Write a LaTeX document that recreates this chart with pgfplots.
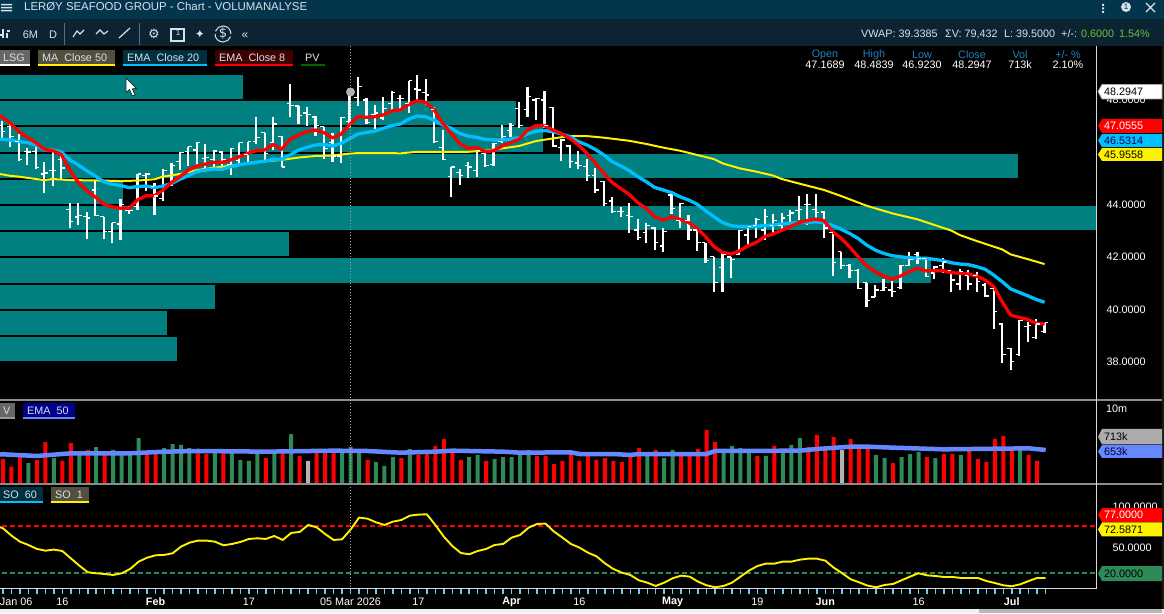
\documentclass[border=0pt]{standalone}
\usepackage{fontspec}
\setmainfont{Liberation Sans}
\usepackage{pgfplots}
\usepackage{pgfplotstable}
\pgfplotsset{compat=1.18}
\definecolor{zone}{HTML}{008080}
\definecolor{cema}{HTML}{00BFFF}
\definecolor{vema}{HTML}{6688FF}
\definecolor{sgreen}{HTML}{2E8B57}
\definecolor{tickb}{HTML}{66CCFF}
\definecolor{hdr}{HTML}{03354D}
\definecolor{tool}{HTML}{0C2432}
\definecolor{hblue}{HTML}{1E82BE}
\definecolor{lite}{HTML}{D5E2EA}
\definecolor{ggreen}{HTML}{6FBF40}
\pgfdeclareplotmark{otick}{\pgfpathmoveto{\pgfqpoint{0pt}{0pt}}\pgfpathlineto{\pgfqpoint{-3.6pt}{0pt}}\pgfusepathqstroke}
\pgfdeclareplotmark{ctick}{\pgfpathmoveto{\pgfqpoint{0pt}{0pt}}\pgfpathlineto{\pgfqpoint{3.6pt}{0pt}}\pgfusepathqstroke}

% i open high low close
\pgfplotstableread{
i O H L C
0 47.05 47.22 46.52 46.79
1 46.98 47.14 46.22 46.60
2 46.42 46.71 45.69 45.72
3 46.03 46.18 45.53 46.02
4 46.03 46.22 45.37 45.42
5 45.18 45.64 44.47 45.22
6 45.31 46.02 44.72 45.30
7 45.72 45.87 45.00 45.41
8 43.81 44.07 43.13 43.36
9 43.54 44.07 43.23 43.61
10 43.55 43.73 42.71 43.50
11 44.57 44.91 43.58 43.59
12 43.55 43.55 42.71 42.97
13 42.98 43.32 42.56 43.32
14 43.27 44.23 42.66 44.00
15 43.78 43.96 43.65 43.78
16 43.93 45.18 43.81 45.18
17 45.11 45.23 44.53 45.18
18 44.72 44.84 43.61 44.34
19 44.23 45.37 44.15 45.33
20 45.14 45.60 44.72 45.50
21 45.65 46.02 45.33 45.99
22 46.03 46.22 45.49 46.22
23 46.10 46.42 45.53 46.37
24 45.79 46.33 45.27 45.80
25 45.75 46.10 45.37 46.06
26 46.02 46.07 45.37 45.72
27 45.53 46.18 45.14 46.14
28 45.69 46.38 45.56 46.38
29 45.91 46.42 45.61 46.42
30 46.42 47.36 46.33 46.56
31 46.75 46.75 45.72 45.95
32 46.37 47.37 46.10 47.09
33 46.60 46.65 45.45 45.45
34 47.86 48.62 47.35 47.79
35 47.78 47.79 47.09 47.40
36 47.51 47.74 47.03 47.47
37 47.36 47.40 46.63 47.02
38 46.98 46.99 45.75 46.14
39 46.40 46.75 45.65 45.87
40 45.87 47.36 45.60 47.35
41 47.17 48.48 46.92 48.29
42 48.09 48.89 47.79 48.52
43 48.01 48.09 47.09 47.14
44 47.44 47.82 46.89 47.51
45 47.32 48.12 47.25 47.70
46 47.89 48.35 47.56 48.28
47 48.05 48.20 47.63 48.05
48 47.89 48.75 47.52 48.75
49 48.43 48.96 48.01 48.39
50 48.30 48.81 47.82 48.20
51 47.63 47.74 46.37 46.42
52 46.18 46.86 45.72 45.75
53 45.07 45.46 44.30 45.45
54 45.23 45.37 44.76 45.14
55 45.49 45.64 45.04 45.45
56 45.31 46.10 45.08 46.07
57 45.95 45.98 45.45 45.49
58 45.53 46.38 45.49 46.33
59 46.42 47.05 46.35 46.60
60 46.84 47.13 46.60 47.05
61 47.70 47.94 46.95 47.02
62 47.63 48.51 47.37 48.14
63 48.01 48.09 47.25 48.05
64 48.01 48.35 46.94 47.05
65 47.71 47.74 46.22 46.25
66 46.21 46.52 45.68 46.48
67 46.25 46.29 45.41 45.65
68 45.60 46.06 45.37 45.49
69 45.46 45.75 44.93 45.14
70 45.14 45.42 44.46 44.57
71 44.89 44.93 43.96 44.07
72 44.15 44.30 43.70 43.74
73 43.74 43.93 43.54 43.74
74 43.58 44.08 42.93 43.55
75 43.04 43.46 42.66 42.74
76 42.93 43.32 42.56 43.23
77 43.12 43.17 42.28 42.56
78 42.43 43.13 42.21 42.98
79 44.38 44.53 43.65 43.88
80 43.42 44.07 43.12 44.04
81 43.42 43.61 42.66 43.04
82 43.04 43.12 42.25 42.56
83 42.55 42.55 41.78 41.87
84 42.02 42.02 40.68 41.03
85 41.60 42.16 40.68 42.12
86 42.01 42.02 41.22 41.90
87 42.12 43.04 42.09 43.02
88 42.85 43.23 42.43 43.19
89 43.23 43.50 42.74 43.46
90 43.04 43.84 42.66 43.55
91 43.23 43.65 42.94 43.42
92 43.23 43.69 43.00 43.50
93 43.61 43.81 43.31 43.69
94 43.78 44.34 43.42 43.81
95 44.00 44.42 43.23 44.00
96 43.81 44.42 43.42 43.70
97 43.73 43.78 42.74 43.12
98 42.93 42.93 41.28 41.79
99 42.21 42.21 41.55 41.70
100 41.70 41.74 41.21 41.51
101 41.51 41.55 40.79 40.79
102 41.02 41.03 40.10 40.34
103 40.48 40.94 40.47 40.75
104 40.72 41.17 40.71 40.83
105 40.75 41.10 40.49 40.68
106 40.83 41.70 40.79 41.67
107 41.70 42.21 41.67 41.90
108 42.09 42.21 41.74 41.97
109 41.97 42.02 41.26 41.28
110 41.40 41.67 41.17 41.63
111 41.70 41.97 41.40 41.82
112 41.49 41.49 40.68 41.13
113 40.98 41.55 40.75 41.44
114 41.32 41.51 40.75 40.98
115 41.32 41.45 40.68 41.07
116 40.94 41.02 40.48 40.52
117 40.79 40.83 39.26 39.92
118 39.45 39.49 37.97 38.30
119 38.50 38.53 37.69 38.01
120 38.27 39.60 38.24 39.58
121 39.34 39.54 38.77 39.41
122 38.92 39.64 38.88 39.45
123 39.16 39.50 39.12 39.50
}\ohlc

\pgfplotstableread{
i v
-1 47.50
0 47.37
1 47.12
2 46.80
3 46.58
4 46.38
5 46.12
6 46.07
7 45.93
8 45.33
9 44.86
10 44.54
11 44.31
12 44.03
13 43.93
14 43.87
15 43.87
16 44.19
17 44.35
18 44.35
19 44.57
20 44.86
21 45.08
22 45.33
23 45.49
24 45.56
25 45.63
26 45.63
27 45.72
28 45.84
29 45.97
30 46.07
31 46.10
32 46.31
33 46.12
34 46.51
35 46.67
36 46.80
37 46.86
38 46.76
39 46.56
40 46.70
41 47.06
42 47.37
43 47.35
44 47.37
45 47.44
46 47.59
47 47.63
48 47.84
49 47.98
50 47.92
51 47.63
52 47.12
53 46.73
54 46.35
55 46.16
56 46.19
57 46.03
58 46.07
59 46.25
60 46.38
61 46.51
62 46.86
63 47.03
64 47.03
65 46.86
66 46.73
67 46.54
68 46.29
69 45.98
70 45.59
71 45.21
72 44.85
73 44.63
74 44.40
75 44.09
76 43.87
77 43.55
78 43.42
79 43.55
80 43.45
81 43.33
82 43.10
83 42.79
84 42.41
85 42.19
86 42.12
87 42.24
88 42.43
89 42.57
90 42.79
91 42.89
92 43.03
93 43.17
94 43.32
95 43.40
96 43.46
97 43.40
98 42.98
99 42.72
100 42.40
101 42.02
102 41.67
103 41.45
104 41.28
105 41.16
106 41.28
107 41.45
108 41.58
109 41.48
110 41.48
111 41.49
112 41.41
113 41.39
114 41.36
115 41.28
116 41.13
117 40.88
118 40.30
119 39.79
120 39.70
121 39.63
122 39.48
123 39.45
}\emaeight

\pgfplotstableread{
i v
-1 46.51
0 46.51
1 46.48
2 46.42
3 46.38
4 46.29
5 46.10
6 46.10
7 46.03
8 45.72
9 45.53
10 45.31
11 45.11
12 44.89
13 44.79
14 44.74
15 44.66
16 44.70
17 44.72
18 44.66
19 44.72
20 44.82
21 44.98
22 45.12
23 45.27
24 45.33
25 45.37
26 45.36
27 45.46
28 45.53
29 45.59
30 45.63
31 45.67
32 45.74
33 45.74
34 45.91
35 46.10
36 46.20
37 46.29
38 46.31
39 46.25
40 46.35
41 46.53
42 46.71
43 46.77
44 46.82
45 46.93
46 47.03
47 47.09
48 47.28
49 47.40
50 47.37
51 47.23
52 47.05
53 46.93
54 46.73
55 46.63
56 46.58
57 46.51
58 46.48
59 46.48
60 46.51
61 46.57
62 46.71
63 46.82
64 46.84
65 46.80
66 46.71
67 46.61
68 46.42
69 46.29
70 46.12
71 45.91
72 45.65
73 45.49
74 45.31
75 45.08
76 44.89
77 44.67
78 44.57
79 44.47
80 44.31
81 44.19
82 44.03
83 43.78
84 43.55
85 43.33
86 43.21
87 43.17
88 43.17
89 43.19
90 43.21
91 43.23
92 43.27
93 43.30
94 43.33
95 43.33
96 43.36
97 43.32
98 43.21
99 43.07
100 42.91
101 42.72
102 42.47
103 42.28
104 42.15
105 42.06
106 42.02
107 41.98
108 41.97
109 41.96
110 41.92
111 41.87
112 41.79
113 41.74
114 41.72
115 41.64
116 41.54
117 41.32
118 41.07
119 40.79
120 40.66
121 40.53
122 40.39
123 40.28
}\ematwenty

\pgfplotstableread{
i v
-1 45.20
0 45.17
1 45.11
2 45.08
4 44.99
5 44.95
6 44.99
8 44.95
10 44.94
12 44.93
14 44.91
16 44.93
18 44.98
19 45.08
21 45.18
23 45.33
25 45.42
27 45.50
29 45.59
31 45.67
33 45.72
35 45.81
37 45.87
39 45.89
41 45.96
42 45.98
46 45.98
47 45.97
49 46.03
51 46.03
55 46.03
57 46.07
59 46.16
61 46.25
63 46.44
65 46.54
67 46.63
69 46.63
71 46.57
74 46.45
76 46.33
78 46.19
80 46.07
82 45.91
84 45.75
85 45.59
87 45.40
89 45.27
91 45.12
92 44.99
94 44.82
97 44.57
99 44.34
102 43.97
105 43.68
108 43.45
112 43.02
113 42.85
115 42.62
118 42.30
119 42.11
121 41.93
123 41.74
}\mafifty

\pgfplotstableread{
i v
0 480
1 332
2 518
4 461
5 806
7 442
8 787
10 653
12 576
17 576
18 595
23 614
24 576
26 614
31 499
33 614
35 538
37 614
38 614
39 614
43 461
47 499
49 557
50 595
51 730
52 864
53 614
54 461
57 442
63 538
64 538
65 384
66 442
67 576
68 442
69 557
70 461
71 499
72 442
73 422
74 518
75 691
77 653
80 576
81 576
82 672
83 1037
84 806
89 538
91 730
95 710
96 941
97 653
98 902
100 864
101 710
102 710
105 403
109 518
111 576
112 576
114 653
115 480
116 422
117 864
118 922
119 653
121 557
122 442
}\volred

\pgfplotstableread{
i v
3 403
6 499
9 614
11 710
13 653
14 595
15 557
16 883
19 691
20 768
21 749
22 691
25 614
27 614
28 461
29 442
30 614
32 614
34 960
40 614
41 713
42 614
44 422
45 346
46 518
48 672
55 518
56 557
58 480
59 518
60 518
61 614
62 653
76 576
78 499
79 653
85 614
86 730
87 691
88 614
90 538
92 614
93 749
94 883
103 557
104 499
106 518
107 576
108 614
110 499
113 557
120 653
123 19
}\volgreen

\pgfplotstableread{
i v
36 442
99 653
}\volgray

\pgfplotstableread{
i v
-1 570
0 570
4 538
8 589
15 589
19 621
23 634
31 621
39 640
43 634
46 608
47 602
51 621
53 640
59 621
61 602
67 608
68 576
72 576
74 557
75 576
83 576
84 634
94 640
96 672
100 717
102 717
105 698
111 666
121 685
123 653
}\volema

\pgfplotstableread{
i v
-1 78.0
0 74.2
1 65.3
2 58.0
3 54.0
4 49.2
5 47.1
6 48.4
7 46.7
8 37.8
9 29.0
10 20.9
11 19.7
12 18.8
13 17.6
14 19.7
15 24.9
16 33.8
17 38.6
18 41.5
19 41.9
20 43.9
21 52.0
22 56.8
23 59.3
24 59.3
25 58.0
26 53.6
27 55.2
28 57.6
29 61.3
30 62.1
31 61.3
32 64.9
33 60.1
34 68.6
35 69.8
36 78.3
37 75.4
38 67.3
39 60.1
40 60.9
41 72.6
42 87.2
43 85.9
44 81.5
45 78.3
46 82.3
47 84.3
48 89.6
49 90.8
50 91.2
51 78.3
52 64.1
53 52.8
54 44.3
55 42.7
56 46.7
57 49.2
58 54.0
59 55.2
60 62.9
61 66.1
62 75.0
63 79.5
64 79.9
65 70.2
66 62.9
67 55.2
68 50.8
69 44.7
70 40.3
71 31.8
72 24.9
73 20.5
74 17.6
75 11.2
76 8.3
77 4.3
78 8.3
79 13.6
80 16.8
81 15.6
82 9.5
83 5.1
84 2.7
85 4.3
86 8.3
87 15.6
88 22.9
89 28.5
90 31.4
91 31.4
92 33.8
93 33.8
94 36.2
95 37.4
96 37.4
97 35.0
98 26.5
99 19.7
100 12.4
101 8.7
102 4.7
103 2.7
104 5.5
105 6.7
106 11.2
107 15.6
108 19.7
109 17.2
110 16.4
111 15.2
112 15.2
113 14.0
114 14.0
115 14.0
116 10.3
117 7.9
118 5.1
119 3.9
120 6.3
121 10.3
122 14.0
123 14.0
}\sofast

\newcommand{\zone}[3]{\addplot[fill=zone,draw=none,forget plot] coordinates {(-1,#2)(#1,#2)(#1,#3)(-1,#3)} --cycle;}
\newcommand{\ptag}[5]{%
  \fill[#3] (1098,{(#1+#2)/2}) -- (1102,#1) -- (1162,#1) -- (1162,#2) -- (1102,#2) -- cycle;
  \node[anchor=west,inner sep=0pt,text=#4,font=\fontsize{10.8}{12}\selectfont] at (1104,{(#1+#2)/2}) {#5};}

\begin{document}
\begin{tikzpicture}
\path[use as bounding box] (0,0) rectangle (1164pt,613pt);
\fill[black] (0,0) rectangle (1164pt,613pt);

% price panel
\begin{axis}[at={(0pt,567pt)},anchor=north west,scale only axis,width=1096pt,height=353pt,
  xmin=-0.224,xmax=129.07,ymin=36.585,ymax=50.072,
  axis x line=none,axis y line*=right,y axis line style={draw=none},
  ytick={38,40,42,44,48},ytick style={draw=none},
  yticklabel style={text=white,font=\fontsize{10.8}{12}\selectfont,xshift=7pt,
    /pgf/number format/.cd,fixed,fixed zerofill,precision=4,assume math mode=true}]
\zone{28.44}{48.96}{48.05}
\zone{60.65}{47.97}{47.05}
\zone{63.83}{46.98}{46.03}
\zone{119.87}{45.95}{45.03}
\zone{14.29}{44.95}{44.04}
\zone{130}{43.96}{43.04}
\zone{33.87}{42.97}{42.05}
\zone{109.6}{41.97}{41.02}
\zone{25.14}{40.94}{40.02}
\zone{19.48}{39.95}{39.03}
\zone{20.66}{38.95}{38.04}
\addplot[draw=none,no markers,forget plot,error bars/.cd,y dir=plus,y explicit,error mark options={draw=none,mark size=0pt},error bar style={white,line width=2.2pt}] table[x=i,y=L,y error expr=\thisrow{H}-\thisrow{L}] {\ohlc};
\addplot[only marks,mark=otick,mark options={draw=white,line width=1.1pt},forget plot] table[x=i,y=O] {\ohlc};
\addplot[only marks,mark=ctick,mark options={draw=white,line width=1.1pt},forget plot] table[x=i,y=C] {\ohlc};
\addplot[yellow,line width=2pt,line join=round] table[x=i,y=v] {\mafifty};
\addplot[cema,line width=3.3pt,line join=round] table[x=i,y=v] {\ematwenty};
\addplot[red,line width=3.3pt,line join=round] table[x=i,y=v] {\emaeight};
\end{axis}

% volume panel
\begin{axis}[at={(0pt,129pt)},anchor=south west,scale only axis,width=1096pt,height=83pt,
  xmin=-0.354,xmax=128.94,ymin=0,ymax=1594,hide axis,ybar,bar width=4pt,bar shift=0pt]
\addplot[fill=red,draw=none] table[x=i,y=v] {\volred};
\addplot[fill=sgreen,draw=none] table[x=i,y=v] {\volgreen};
\addplot[fill=gray!60,draw=none] table[x=i,y=v] {\volgray};
\addplot[sharp plot,vema,line width=4.5pt,line join=round] table[x=i,y=v] {\volema};
\end{axis}

% stochastic panel
\begin{axis}[at={(0pt,25pt)},anchor=south west,scale only axis,width=1096pt,height=103pt,
  xmin=-0.354,xmax=128.94,ymin=1.82,ymax=126.73,
  axis x line*=bottom,axis y line*=right,
  x axis line style={draw=white!85!black,line width=1pt,-},
  y axis line style={draw=none},
  xtick={0,1,...,123},xticklabels={},
  tick align=outside,major tick length=6pt,
  x tick style={tickb,line width=1.5pt},
  extra x ticks={1.55,7,18,29,41,49,60,68,79,89,97,108,119},
  extra x tick labels={{Jan 06},16,{\bfseries Feb},17,{05 Mar 2026},17,{\bfseries Apr},16,{\bfseries May},19,{\bfseries Jun},16,{\bfseries Jul}},
  extra x tick style={major tick length=0pt,x tick style={draw=none},
    xticklabel style={text=white,font=\fontsize{10.8}{12}\selectfont,anchor=center,yshift=-13.5pt}},
  ytick={50,100},ytick style={draw=none},
  yticklabel style={text=white,font=\fontsize{10.8}{12}\selectfont,xshift=7pt,
    /pgf/number format/.cd,fixed,fixed zerofill,precision=4,assume math mode=true}]
\addplot[red,line width=1.5pt,dash pattern=on 5pt off 3pt,forget plot] coordinates {(-0.1,77)(130,77)};
\addplot[sgreen,line width=1.5pt,dash pattern=on 5pt off 3pt,forget plot] coordinates {(-0.1,20)(130,20)};
\addplot[yellow,line width=1.9pt,line join=round] table[x=i,y=v] {\sofast};
\end{axis}

% window furniture, in image pixels
\begin{scope}[shift={(0,613pt)},x=1pt,y=-1pt]
\fill[hdr] (0,0) rectangle (1164,19);
\fill[tool] (0,19) rectangle (1164,46);
\fill[black!90!white] (1162,46) rectangle (1164,609);
\fill[black!6] (0,609) rectangle (1164,613);
\fill[black!28] (979,609) rectangle (1162,613);
% hamburger and title
\fill[lite] (1,4) rectangle (12,5.3) (1,7) rectangle (12,8.3) (1,10) rectangle (12,11.3);
\node[anchor=west,inner sep=0pt,text=lite,font=\fontsize{11.4}{14}\selectfont] at (24,7) {LERØY SEAFOOD GROUP - Chart - VOLUMANALYSE};
% toolbar
\draw[lite,line width=1.2pt] (3,29)--(3,38) (7,33)--(7,38) (7,31)--(10,31) (0,35)--(3,35);
\node[anchor=center,inner sep=0pt,text=lite,font=\fontsize{11}{13}\selectfont] at (30.5,35) {6M};
\node[anchor=center,inner sep=0pt,text=lite,font=\fontsize{11}{13}\selectfont] at (53,35) {D};
\draw[hdr!70!white,line width=1pt] (64.5,23)--(64.5,45) (139.5,23)--(139.5,45);
\draw[lite,line width=1.2pt] (73,37)--(77,31)--(80,34)--(84,30) (96,34)--(100,30)--(104,34)--(108,31);
\draw[lite,line width=1.2pt] (119,38)--(130,28);
\node[text=lite,inner sep=0pt,font=\fontsize{13}{13}\selectfont] at (154,34) {\fontspec{DejaVu Sans}⚙};
\draw[lite,line width=1.2pt] (171,29) rectangle (184,41);
\node[text=lite,inner sep=0pt,font=\fontsize{8}{8}\selectfont] at (178,33) {1};
\node[text=lite,inner sep=0pt,font=\fontsize{12}{12}\selectfont] at (200,34) {\fontspec{DejaVu Sans}✦};
\node[text=lite,inner sep=0pt,font=\fontsize{13}{13}\selectfont] at (223,34) {\fontspec{DejaVu Sans}\$};
\draw[lite,line width=1pt] (215,34) arc (180:20:8) (231,34) arc (0:-160:8);
\node[text=lite,inner sep=0pt,font=\fontsize{12}{12}\selectfont] at (245,36) {«};
\fill[lite] (1102,4) rectangle (1104,6) (1102,7.5) rectangle (1104,9.5) (1102,11) rectangle (1104,13);
\fill[lite] (1126,7) circle (5);
\node[text=tool,inner sep=0pt,font=\fontsize{8}{8}\selectfont] at (1126,7) {1};
\draw[lite,line width=1.2pt] (1146,3)--(1155,12) (1155,3)--(1146,12);
\node[anchor=west,inner sep=0pt,text=lite,font=\fontsize{10.8}{12}\selectfont] at (861,34) {VWAP: 39.3385};
\node[anchor=west,inner sep=0pt,text=lite,font=\fontsize{10.8}{12}\selectfont] at (945,34) {ΣV: 79,432};
\node[anchor=west,inner sep=0pt,text=lite,font=\fontsize{10.8}{12}\selectfont] at (1004,34) {L: 39.5000};
\node[anchor=west,inner sep=0pt,text=lite,font=\fontsize{10.8}{12}\selectfont] at (1061,34) {+/-:};
\node[anchor=west,inner sep=0pt,text=ggreen,font=\fontsize{10.8}{12}\selectfont] at (1081,34) {0.6000};
\node[anchor=west,inner sep=0pt,text=ggreen,font=\fontsize{10.8}{12}\selectfont] at (1119,34) {1.54\%};
% OHLC header
\foreach \x/\a/\b in {825/Open/47.1689,874/High/48.4839,922/Low/46.9230,972/Close/48.2947,1020/Vol/713k,1068/{+/- \%}/2.10\%}{
  \node[inner sep=0pt,text=hblue,font=\fontsize{10.8}{12}\selectfont] at (\x,55) {\a};
  \node[inner sep=0pt,text=white,font=\fontsize{10.8}{12}\selectfont] at (\x,65) {\b};}
% legend chips
\tikzset{chiptxt/.style={anchor=west,inner sep=0pt,text=lite,font=\fontsize{10.8}{12}\selectfont}}
\fill[black!60] (0,50) rectangle (30,66); \fill[white] (0,64) rectangle (30,66);
\node[chiptxt] at (3,58) {LSG};
\fill[yellow!22!black] (38,50) rectangle (115,66); \fill[yellow] (38,64) rectangle (115,66);
\node[chiptxt] at (42,58) {MA\ \ Close 50};
\fill[cema!25!black] (123,50) rectangle (207,66); \fill[cema] (123,64) rectangle (207,66);
\node[chiptxt] at (127,58) {EMA\ \ Close 20};
\fill[red!25!black] (215,50) rectangle (293,66); \fill[red] (215,64) rectangle (293,66);
\node[chiptxt] at (219,58) {EMA\ \ Close 8};
\fill[green!40!black] (301,64) rectangle (325,66);
\node[chiptxt] at (305,58) {PV};
\fill[black!60] (0,403) rectangle (15,419); \fill[black!40] (0,417) rectangle (15,419);
\node[chiptxt] at (3,411) {V};
\fill[blue!55!black] (23,403) rectangle (75,419); \fill[vema] (23,417) rectangle (75,419);
\node[chiptxt] at (27,411) {EMA\ \ 50};
\fill[cema!25!black] (0,487) rectangle (43,503); \fill[cema] (0,501) rectangle (43,503);
\node[chiptxt] at (3,495) {SO\ \ 60};
\fill[yellow!22!black] (51,487) rectangle (89,503); \fill[yellow] (51,501) rectangle (89,503);
\node[chiptxt] at (55,495) {SO\ \ 1};
% separators
\fill[black!45] (0,399.5) rectangle (1162,401);
\fill[black!45] (0,483.5) rectangle (1162,485);
\draw[white!85!black,line width=1pt] (1096,46)--(1096,588.5);
% crosshair and cursor
\draw[gray!70,line width=1pt,dash pattern=on 1pt off 2pt] (350,46)--(350,588);
\fill[gray!60] (350.5,92) circle (4.5);
\fill[white,draw=black,line width=0.5pt] (126,78)--(126,92.5)--(129.5,89.5)--(132.5,96)--(135,95)--(132.3,88.8)--(136.5,88.5)--cycle;
% right axis tags
\fill[white,draw=gray!70,line width=0.8pt] (1098,91.5)--(1102,84.5)--(1162,84.5)--(1162,99)--(1102,99)--cycle;
\node[anchor=west,inner sep=0pt,text=black,font=\fontsize{10.8}{12}\selectfont] at (1104,92) {48.2947};
\ptag{119}{133}{red}{white}{47.0555}
\ptag{134}{147}{cema}{black!70!blue}{46.5314}
\ptag{148}{161}{yellow}{black}{45.9558}
\ptag{429}{444.5}{gray!65}{black}{713k}
\ptag{445}{458}{vema}{black!80!blue}{653k}
\node[anchor=west,inner sep=0pt,text=white,font=\fontsize{10.8}{12}\selectfont] at (1106,409) {10m};
\ptag{508}{522}{red}{white}{77.0000}
\ptag{522.5}{536.5}{yellow}{black}{72.5871}
\ptag{566}{581}{sgreen}{black}{20.0000}
\end{scope}
\end{tikzpicture}
\end{document}
